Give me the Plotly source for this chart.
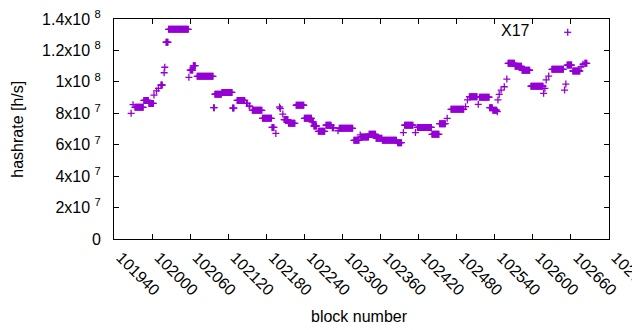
import plotly.graph_objects as go

# Runs of consecutive blocks sharing the same hashrate
run_start = [101967, 101970, 101973, 101987, 101995, 102003, 102007, 102010, 102014, 102019,
             102020, 102022, 102026, 102058, 102060, 102065, 102071, 102097, 102099, 102110,
             102127, 102134, 102149, 102153, 102158, 102174, 102189, 102195, 102201, 102202,
             102206, 102208, 102215, 102227, 102240, 102252, 102255, 102262, 102274, 102284,
             102293, 102295, 102318, 102328, 102329, 102342, 102353, 102363, 102387, 102396,
             102398, 102415, 102418, 102441, 102453, 102465, 102471, 102494, 102497, 102500,
             102514, 102516, 102532, 102537, 102544, 102545, 102547, 102550, 102555, 102559,
             102561, 102572, 102583, 102597, 102617, 102619, 102621, 102625, 102630, 102650,
             102652, 102654, 102663, 102676, 102679, 102682]
run_end = [101967, 101970, 101986, 101994, 102002, 102003, 102007, 102010, 102016, 102019,
           102020, 102025, 102057, 102058, 102064, 102068, 102096, 102098, 102109, 102126,
           102129, 102146, 102150, 102154, 102173, 102188, 102192, 102195, 102201, 102202,
           102206, 102214, 102225, 102239, 102251, 102254, 102259, 102272, 102282, 102286,
           102293, 102316, 102326, 102328, 102341, 102352, 102362, 102385, 102393, 102396,
           102411, 102415, 102440, 102452, 102462, 102465, 102491, 102494, 102497, 102512,
           102514, 102531, 102536, 102543, 102544, 102545, 102547, 102550, 102555, 102559,
           102571, 102582, 102595, 102616, 102617, 102619, 102621, 102625, 102648, 102650,
           102652, 102661, 102674, 102676, 102679, 102685]
run_value = [8.0e7, 8.55e7, 8.38e7, 8.82e7, 8.63e7, 9.16e7, 9.42e7, 9.59e7, 9.8e7, 1.058e8,
             1.093e8, 1.252e8, 1.334e8, 1.029e8, 1.075e8, 1.103e8, 1.035e8, 8.36e7, 9.21e7, 9.33e7,
             8.33e7, 8.82e7, 8.63e7, 8.46e7, 8.19e7, 7.68e7, 7.1e7, 6.72e7, 8.4e7, 8.3e7,
             7.95e7, 7.6e7, 7.36e7, 8.51e7, 7.68e7, 7.45e7, 7.19e7, 6.85e7, 7.24e7, 7.08e7,
             6.89e7, 7.04e7, 6.28e7, 6.62e7, 6.49e7, 6.66e7, 6.41e7, 6.28e7, 6.13e7, 6.77e7,
             7.24e7, 6.77e7, 7.1e7, 6.66e7, 7.34e7, 7.68e7, 8.25e7, 8.42e7, 8.85e7, 9.06e7,
             8.57e7, 9.02e7, 8.36e7, 8.2e7, 8.1e7, 8.85e7, 9.2e7, 9.48e7, 9.69e7, 1.018e8,
             1.118e8, 1.099e8, 1.074e8, 9.72e7, 9.27e7, 9.59e7, 1.012e8, 1.037e8, 1.08e8, 9.48e7,
             9.86e7, 1.107e8, 1.069e8, 1.096e8, 1.112e8, 1.118e8]

x_tick_values = [101940, 102000, 102060, 102120, 102180, 102240, 102300, 102360,
                 102420, 102480, 102540, 102600, 102660, 102720]
x_tick_labels = ["101940", "102000", "102060", "102120", "102180", "102240", "102300",
                 "102360", "102420", "102480", "102540", "102600", "102660", "102720"]
y_tick_values = [0, 2e7, 4e7, 6e7, 8e7, 1e8, 1.2e8, 1.4e8]
y_tick_labels = ["0", "2x10 <sup>7</sup>", "4x10 <sup>7</sup>", "6x10 <sup>7</sup>",
                 "8x10 <sup>7</sup>", "1x10 <sup>8</sup>", "1.2x10 <sup>8</sup>",
                 "1.4x10 <sup>8</sup>"]
series_name = "X17"

# run-length decode
blocks, rates = [], []
for s, e, v in zip(run_start, run_end, run_value):
    for b in range(s, e + 1):
        blocks.append(b)
        rates.append(v)

COLOR = "#9400D3"
FONT = "Liberation Sans"

fig = go.Figure()
fig.add_trace(go.Scatter(
    x=blocks, y=rates, mode="markers", name=series_name, showlegend=False,
    marker=dict(symbol="cross-thin", size=5, color=COLOR,
                line=dict(width=1.3, color=COLOR)),
))

axis_common = dict(showline=True, linecolor="black", linewidth=1, mirror="ticks",
                   ticks="inside", ticklen=5, tickcolor="black", tickwidth=1,
                   showgrid=False, zeroline=False, automargin=False,
                   ticklabeloverflow="allow",
                   tickfont=dict(family=FONT, size=16, color="black"))

fig.update_xaxes(range=[101940, 102720], tickvals=x_tick_values, ticktext=x_tick_labels,
                 tickangle=45, ticklabelstandoff=2, ticklabelshift=7, **axis_common)
fig.update_yaxes(range=[0, 1.4e8], tickvals=y_tick_values, ticktext=y_tick_labels,
                 ticklabelstandoff=9, **axis_common)

fig.add_annotation(text="block number", xref="paper", yref="paper", x=0.496, y=-0.35,
                   xanchor="center", yanchor="middle", showarrow=False,
                   font=dict(family=FONT, size=16, color="black"))
fig.add_annotation(text="hashrate [h/s]", xref="paper", yref="paper", x=-0.1966, y=0.5,
                   xanchor="center", yanchor="middle", textangle=-90, showarrow=False,
                   font=dict(family=FONT, size=16, color="black"))
# legend: text then sample symbol (gnuplot style)
fig.add_annotation(text=series_name, xref="paper", yref="paper", x=0.8444, y=0.95,
                   xanchor="right", yanchor="middle", showarrow=False,
                   font=dict(family=FONT, size=16, color="black"))
lx, ly = 0.9166, 0.9395
for (x0, x1, y0, y1) in [(-3.5, 3.5, 0, 0), (0, 0, -3.5, 3.5)]:
    fig.add_shape(type="line", xref="paper", yref="paper", xsizemode="pixel",
                  ysizemode="pixel", xanchor=lx, yanchor=ly, x0=x0, x1=x1, y0=y0, y1=y1,
                  line=dict(color=COLOR, width=1.3))

# page body has an 8px margin, so the figure is 8px smaller and shifted
fig.update_layout(width=632, height=322,
                  margin=dict(l=106, r=31, t=11, b=91, autoexpand=False),
                  plot_bgcolor="white", paper_bgcolor="white",
                  font=dict(family=FONT, size=16, color="black"))

fig.write_html("out.html")
